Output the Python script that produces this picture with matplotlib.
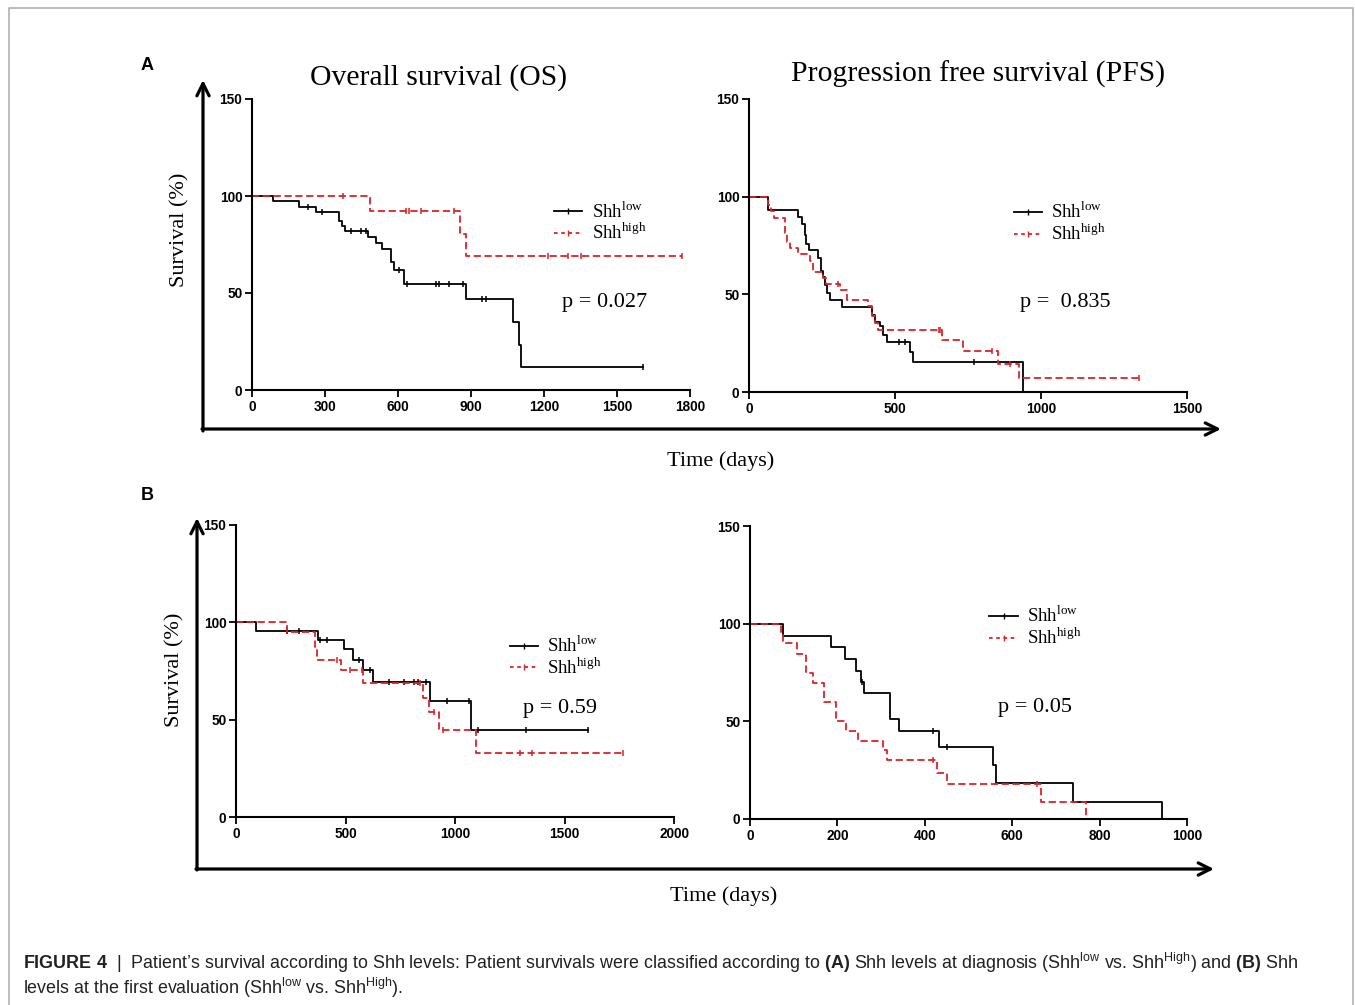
import numpy as np
import matplotlib
matplotlib.use("Agg")
from matplotlib import pyplot as plt
from matplotlib.lines import Line2D

plt.rcParams['mathtext.fontset'] = 'custom'
plt.rcParams['mathtext.bf'] = 'Liberation Sans:bold'
plt.rcParams['mathtext.rm'] = 'Liberation Serif'

# ---- data (days, survival %) ----
# A: overall survival, Shh at diagnosis
os_a_low_t = [85, 192, 263, 359, 370, 382, 475, 510, 534, 571, 585, 626, 880, 1071, 1096, 1107]
os_a_low_s = [97.5, 94.4, 92, 87, 84.4, 82, 79, 75.7, 72.8, 66, 61.7, 54.5, 46.9, 35, 23, 12]
os_a_low_c = [229, 288, 407, 448, 469, 605, 636, 756, 770, 811, 866, 945, 962, 1608]
os_a_high_t = [485, 855, 880]
os_a_high_s = [92.4, 80.5, 69]
os_a_high_c = [373, 633, 647, 695, 832, 1215, 1297, 1352, 1767]

# A: progression free survival
pfs_a_low_t = [66, 167, 180, 192, 195, 207, 238, 246, 255, 260, 268, 277, 317, 420, 432, 449, 460, 471, 552, 563, 940]
pfs_a_low_s = [93, 89.6, 86, 80.5, 76, 72.5, 68.6, 62, 59, 55, 50.7, 47, 43.3, 39.6, 36, 33.6, 29, 25.6, 20.3, 15.2, 0]
pfs_a_low_c = [512, 534, 769]
pfs_a_high_t = [66, 74, 87, 123, 131, 140, 169, 209, 218, 255, 264, 312, 335, 409, 420, 432, 443, 660, 734, 854, 923]
pfs_a_high_s = [95.9, 92.5, 89, 81.2, 77, 73.7, 70.8, 66.9, 61.4, 58.4, 55.5, 52, 47.3, 43.9, 38.7, 35.3, 31.7, 26.5, 20.8, 14.5, 7.2]
pfs_a_high_c = [306, 649, 654, 831, 894, 1334]

# B: overall survival, Shh at first evaluation
os_b_low_t = [93, 373, 494, 534, 582, 625, 884, 1072]
os_b_low_s = [95.5, 91.1, 86.5, 80.5, 75.7, 69.3, 59.6, 44.5]
os_b_low_c = [233, 286, 382, 415, 560, 610, 697, 768, 811, 829, 868, 963, 1062, 1107, 1325, 1609]
os_b_high_t = [233, 362, 370, 479, 582, 856, 879, 925, 1097]
os_b_high_s = [95, 87.3, 80.8, 75.3, 68.8, 61.3, 54, 44.9, 33]
os_b_high_c = [461, 519, 575, 841, 902, 945, 1297, 1351, 1769]

# B: progression free survival
pfs_b_low_t = [75, 185, 217, 242, 255, 261, 320, 341, 432, 556, 564, 739, 943]
pfs_b_low_s = [93.9, 87.9, 81.9, 75.9, 70.3, 64.3, 51, 45, 37, 27.6, 18.6, 8.9, 0]
pfs_b_low_c = [257, 419, 450]
pfs_b_high_t = [70, 76, 108, 128, 145, 169, 196, 219, 247, 305, 313, 428, 450, 665, 770]
pfs_b_high_s = [95, 90, 84.5, 74.6, 69.8, 59.7, 50.3, 45, 40, 35.3, 30.2, 23.7, 17.9, 8.9, 0]
pfs_b_high_c = [419, 657]

W, H = 1355, 1005
fig = plt.figure(figsize=(W / 100, H / 100), dpi=100)
fig.patch.set_facecolor('white')

# overlay in pixel coords for arrows / labels / frame
ov = fig.add_axes([0, 0, 1, 1])
ov.set_xlim(0, W)
ov.set_ylim(H, 0)
ov.axis('off')

serif = 'Liberation Serif'
sans = 'Liberation Sans'
red = '#dc2226'


def ax_at(x0, y0, x1, y1):
    return fig.add_axes([x0 / W, 1 - y1 / H, (x1 - x0) / W, (y1 - y0) / H])


def km(ax, t, s, c, color, ls):
    t = np.array(t, float)
    s = np.array(s, float)
    end = max(max(c), t[-1]) if s[-1] > 0 else t[-1]
    xs = np.concatenate([[0], t, [end]])
    ys = np.concatenate([[100], s, [s[-1]]])
    ax.step(xs, ys, where='post', color=color, ls=ls, lw=1.3, clip_on=False)
    c = np.array(c, float)
    idx = np.searchsorted(t, c, side='right')
    cy = np.where(idx == 0, 100, np.concatenate([[100], s])[idx])
    ax.plot(c, cy, ls='none', marker='|', ms=5, mew=1.1, color=color, clip_on=False)


def panel(box, xmax, xstep, low, high, leg_xy, ptxt, pxy):
    ax = ax_at(*box)
    ax.patch.set_alpha(0)
    km(ax, *low, 'black', '-')
    km(ax, *high, red, (0, (4, 2)))
    ax.set_xlim(0, xmax)
    ax.set_ylim(0, 150)
    ax.set_xticks(np.arange(0, xmax + 1, xstep))
    ax.set_yticks([0, 50, 100, 150])
    for sp in ['top', 'right']:
        ax.spines[sp].set_visible(False)
    for sp in ['left', 'bottom']:
        ax.spines[sp].set_linewidth(1.5)
    ax.tick_params(direction='out', length=5, width=1.3, labelsize=9.8, pad=2)
    for lab in ax.get_xticklabels() + ax.get_yticklabels():
        lab.set_fontfamily(sans)
        lab.set_fontweight('bold')
    handles = [Line2D([], [], color='black', lw=1.3, marker='|', ms=5, markevery=[1]),
               Line2D([], [], color=red, lw=1.3, ls=(0, (2, 2)), marker='|', ms=5)]
    ax.legend(handles, ['Shh$^{\\mathregular{low}}$', 'Shh$^{\\mathregular{high}}$'],
              loc='upper left', bbox_to_anchor=leg_xy, frameon=False, borderpad=0,
              borderaxespad=0, handlelength=1.5, handletextpad=0.5, labelspacing=0.05,
              prop={'family': serif, 'size': 13.5})
    ax.text(pxy[0], pxy[1], ptxt, transform=ax.transAxes, family=serif, fontsize=16,
            va='center', ha='left')
    return ax


panel((252, 99, 690, 390), 1800, 300, (os_a_low_t, os_a_low_s, os_a_low_c),
      (os_a_high_t, os_a_high_s, os_a_high_c), (0.69, 0.65), 'p = 0.027', (0.708, 0.30))
panel((749, 99, 1187, 392), 1500, 500, (pfs_a_low_t, pfs_a_low_s, pfs_a_low_c),
      (pfs_a_high_t, pfs_a_high_s, pfs_a_high_c), (0.605, 0.65), 'p =  0.835', (0.619, 0.304))
panel((236, 525, 674, 817), 2000, 500, (os_b_low_t, os_b_low_s, os_b_low_c),
      (os_b_high_t, os_b_high_s, os_b_high_c), (0.625, 0.622), 'p = 0.59', (0.655, 0.373))
panel((750, 526, 1187, 819), 1000, 200, (pfs_b_low_t, pfs_b_low_s, pfs_b_low_c),
      (pfs_b_high_t, pfs_b_high_s, pfs_b_high_c), (0.548, 0.728), 'p = 0.05', (0.567, 0.379))

# big arrows
arr = dict(arrowstyle='->', lw=2.3, color='black', mutation_scale=22, shrinkA=0, shrinkB=0)
ov.annotate('', xy=(203, 80), xytext=(203, 431), arrowprops=arr)
ov.annotate('', xy=(1221, 429), xytext=(202, 429), arrowprops=arr)
ov.annotate('', xy=(197, 518), xytext=(197, 870), arrowprops=arr)
ov.annotate('', xy=(1214, 869), xytext=(196, 869), arrowprops=arr)

# titles and labels
ov.text(439, 78, 'Overall survival (OS)', family=serif, fontsize=21.3, ha='center', va='center')
ov.text(978, 74, 'Progression free survival (PFS)', family=serif, fontsize=21.3, ha='center', va='center')
ov.text(180, 230, 'Survival (%)', family=serif, fontsize=16, rotation=90, ha='center', va='center')
ov.text(175, 670, 'Survival (%)', family=serif, fontsize=16, rotation=90, ha='center', va='center')
ov.text(721, 461, 'Time (days)', family=serif, fontsize=16, ha='center', va='center')
ov.text(724, 896, 'Time (days)', family=serif, fontsize=16, ha='center', va='center')
ov.text(147, 65, 'A', family=sans, fontweight='bold', fontsize=13, ha='center', va='center')
ov.text(147, 495, 'B', family=sans, fontweight='bold', fontsize=13, ha='center', va='center')

# frame
ov.plot([9, 9, 1353, 1353], [1010, 8, 8, 1010], color='#b0b0b0', lw=1.2)

# caption
cap1 = ("$\\mathbf{FIGURE\\ 4}$  |  Patient\u2019s survival according to Shh levels: Patient survivals were "
        "classified according to $\\mathbf{(A)}$ Shh levels at diagnosis (Shh$^{\\mathregular{low}}$ vs. "
        "Shh$^{\\mathregular{High}}$) and $\\mathbf{(B)}$ Shh")
cap2 = "levels at the first evaluation (Shh$^{\\mathregular{low}}$ vs. Shh$^{\\mathregular{High}}$)."
ov.text(23, 963, cap1, family=sans, fontsize=12.9, ha='left', va='center', color='#222222')
ov.text(23, 988, cap2, family=sans, fontsize=12.9, ha='left', va='center', color='#222222')

fig.savefig('out.png', dpi=100)
